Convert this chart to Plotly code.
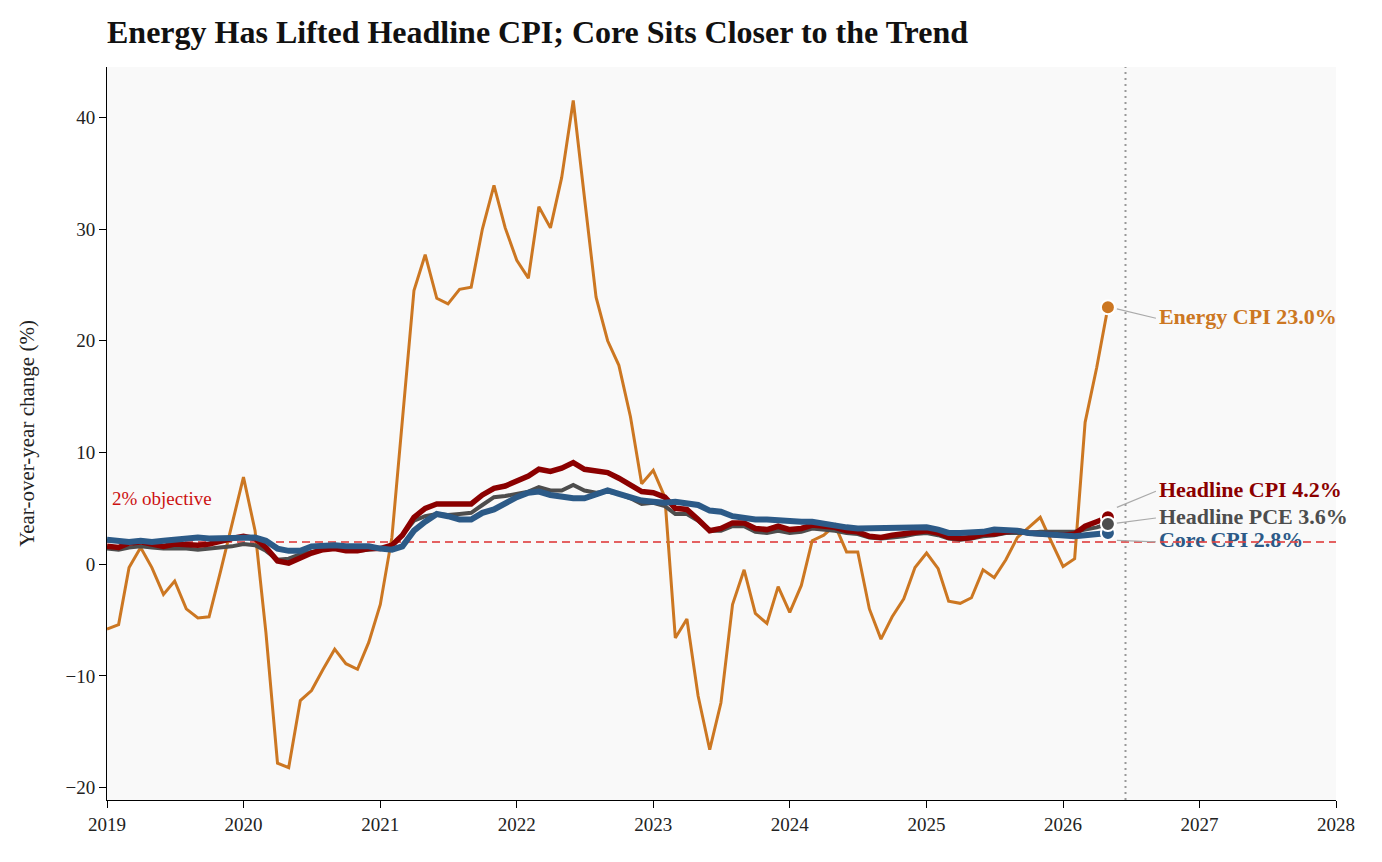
import pandas as pd
import plotly.graph_objects as go

# ---------------- data ----------------
start_month = "2019-01-01"
n_months = 89  # Jan 2019 .. May 2026

energy_cpi = [
    -5.8, -5.4, -0.3, 1.5, -0.3, -2.7, -1.5, -4.0, -4.8, -4.7, -0.6, 3.5,
    7.8, 3.0, -6.1, -17.8, -18.2, -12.2, -11.3, -9.4, -7.6, -8.9, -9.4, -7.0,
    -3.6, 2.4, 13.2, 24.5, 27.7, 23.8, 23.3, 24.6, 24.8, 30.0, 33.9, 30.1,
    27.2, 25.6, 32.0, 30.1, 34.6, 41.5, 32.8, 23.9, 20.0, 17.8, 13.2, 7.2,
    8.4, 6.0, -6.6, -4.9, -11.8, -16.6, -12.4, -3.6, -0.5, -4.4, -5.3, -2.0,
    -4.3, -1.9, 2.1, 2.6, 3.5, 1.1, 1.1, -4.0, -6.7, -4.7, -3.1, -0.3,
    1.0, -0.4, -3.3, -3.5, -3.0, -0.5, -1.2, 0.4, 2.4, 3.3, 4.2, 2.0,
    -0.2, 0.5, 12.7, 17.6, 23.0,
]
headline_cpi = [
    1.6, 1.5, 1.9, 2.0, 1.8, 1.6, 1.8, 1.7, 1.7, 1.8, 2.1, 2.3,
    2.5, 2.3, 1.5, 0.3, 0.1, 0.6, 1.0, 1.3, 1.4, 1.2, 1.2, 1.4,
    1.4, 1.7, 2.6, 4.2, 5.0, 5.4, 5.4, 5.3, 5.4, 6.2, 6.8, 7.0,
    7.5, 7.9, 8.5, 8.3, 8.6, 9.1, 8.5, 8.3, 8.2, 7.7, 7.1, 6.5,
    6.4, 6.0, 5.0, 4.9, 4.0, 3.0, 3.2, 3.7, 3.7, 3.2, 3.1, 3.4,
    3.1, 3.2, 3.5, 3.4, 3.3, 3.0, 2.9, 2.5, 2.4, 2.6, 2.7, 2.9,
    3.0, 2.8, 2.4, 2.3, 2.4, 2.7, 2.7, 2.9, 3.0, 2.8, 2.7, 2.7,
    2.6, 2.7, 3.4, 3.8, 4.2,
]
headline_pce = [
    1.4, 1.3, 1.5, 1.6, 1.5, 1.4, 1.4, 1.4, 1.3, 1.4, 1.5, 1.6,
    1.8, 1.7, 1.2, 0.4, 0.5, 0.9, 1.1, 1.3, 1.4, 1.3, 1.2, 1.3,
    1.4, 1.7, 2.6, 3.9, 4.3, 4.5, 4.4, 4.5, 4.6, 5.3, 6.0, 6.1,
    6.3, 6.5, 6.9, 6.6, 6.6, 7.1, 6.6, 6.4, 6.5, 6.3, 5.9, 5.4,
    5.5, 5.2, 4.5, 4.5, 3.9, 3.0, 3.0, 3.4, 3.4, 2.9, 2.8, 3.0,
    2.8, 2.9, 3.2, 3.1, 3.0, 2.8, 2.7, 2.4, 2.3, 2.4, 2.5, 2.7,
    2.8, 2.6, 2.3, 2.2, 2.3, 2.5, 2.6, 2.8, 2.8, 2.8, 2.9, 2.9,
    2.9, 2.9, 3.1, 3.3, 3.6,
]
core_cpi = [
    2.2, 2.1, 2.0, 2.1, 2.0, 2.1, 2.2, 2.4, 2.4, 2.3, 2.3, 2.3,
    2.3, 2.4, 2.1, 1.4, 1.2, 1.2, 1.6, 1.7, 1.7, 1.6, 1.6, 1.6,
    1.4, 1.3, 1.6, 3.0, 3.8, 4.5, 4.3, 4.0, 4.0, 4.6, 4.9, 5.5,
    6.0, 6.4, 6.5, 6.2, 6.0, 5.9, 5.9, 6.3, 6.6, 6.3, 6.0, 5.7,
    5.6, 5.5, 5.6, 5.5, 5.3, 4.8, 4.7, 4.3, 4.1, 4.0, 4.0, 3.9,
    3.9, 3.8, 3.8, 3.6, 3.4, 3.3, 3.2, 3.2, 3.3, 3.3, 3.3, 3.2,
    3.3, 3.1, 2.8, 2.8, 2.8, 2.9, 3.1, 3.1, 3.0, 2.8, 2.7, 2.7,
    2.6, 2.5, 2.6, 2.7, 2.8,
]

series_names = ["Energy CPI", "Headline PCE", "Headline CPI", "Core CPI"]
target_value = 2.0
target_label = "2% objective"
marker_date = "2026-06-17"
x_range = ["2019-01-01", "2028-01-01"]
y_range = [-21.1, 44.5]
y_ticks = [-20, -10, 0, 10, 20, 30, 40]
title_text = "Energy Has Lifted Headline CPI; Core Sits Closer to the Trend"
y_title = "Year-over-year change (%)"

# ---------------- styles ----------------
FONT = "Liberation Serif, DejaVu Serif, serif"
colors = {
    "Energy CPI": "#cc7722",
    "Headline PCE": "#4d4d4d",
    "Headline CPI": "#8b0000",
    "Core CPI": "#2c5a87",
}
widths = {"Energy CPI": 3, "Headline PCE": 4, "Headline CPI": 5.5, "Core CPI": 6}
values = {
    "Energy CPI": energy_cpi,
    "Headline PCE": headline_pce,
    "Headline CPI": headline_cpi,
    "Core CPI": core_cpi,
}
# label vertical offsets (in pixels, negative = up) relative to end point
label_dy_px = {"Energy CPI": 11, "Headline CPI": -26, "Headline PCE": -6, "Core CPI": 9}

W, H = 1382, 862
margin = dict(l=107, r=46, t=67, b=62)
plot_w = W - margin["l"] - margin["r"]
plot_h = H - margin["t"] - margin["b"]

dates = pd.date_range(start_month, periods=n_months, freq="MS")
x0_ts, x1_ts = pd.Timestamp(x_range[0]), pd.Timestamp(x_range[1])
px_per_day = plot_w / (x1_ts - x0_ts).days
px_per_unit = plot_h / (y_range[1] - y_range[0])


def dx_days(px):
    return pd.Timedelta(days=px / px_per_day)


def dy_units(px):
    return -px / px_per_unit


fig = go.Figure()

last_date = dates[-1]
label_x = last_date + dx_days(51)

# labels (drawn first so the target line passes over them, as in the reference)
for name in ["Energy CPI", "Headline CPI", "Headline PCE", "Core CPI"]:
    v = values[name][-1]
    ly = v + dy_units(label_dy_px[name])
    fig.add_trace(go.Scatter(
        x=[label_x], y=[ly], mode="text",
        text=[f"<b>{name} {v:.1f}%</b>"],
        textposition="middle right",
        textfont=dict(family=FONT, size=22, color=colors[name]),
        showlegend=False, hoverinfo="skip", cliponaxis=False,
    ))

# 2% target line
fig.add_trace(go.Scatter(
    x=[x0_ts, x1_ts], y=[target_value, target_value], mode="lines",
    line=dict(color="rgba(224,70,70,0.85)", width=2, dash="8px,5px"),
    showlegend=False, hoverinfo="skip",
))

# series lines
for name in series_names:
    fig.add_trace(go.Scatter(
        x=dates, y=values[name], mode="lines", name=name,
        line=dict(color=colors[name], width=widths[name]),
        showlegend=False,
    ))

# leader lines
for name in ["Energy CPI", "Headline CPI", "Headline PCE", "Core CPI"]:
    v = values[name][-1]
    dyp = label_dy_px[name]
    sx = last_date + dx_days(9)
    sy = v + dy_units(dyp * 0.15 + (-6 if name == "Headline CPI" else 0) + (6 if name == "Core CPI" else 0))
    ex = last_date + dx_days(48)
    ey = v + dy_units(dyp)
    fig.add_trace(go.Scatter(
        x=[sx, ex], y=[sy, ey], mode="lines",
        line=dict(color="#aaaaaa", width=1.2),
        showlegend=False, hoverinfo="skip", cliponaxis=False,
    ))

# end markers (PCE last so it sits on top)
for name in ["Energy CPI", "Headline CPI", "Core CPI", "Headline PCE"]:
    fig.add_trace(go.Scatter(
        x=[last_date], y=[values[name][-1]], mode="markers",
        marker=dict(size=14, color=colors[name], line=dict(color="white", width=2)),
        showlegend=False, hoverinfo="skip", cliponaxis=False,
    ))

# vertical dotted marker line
fig.add_shape(
    type="line", xref="x", yref="paper",
    x0=marker_date, x1=marker_date, y0=0, y1=1,
    line=dict(color="#999999", width=2, dash="2px,4px"),
    layer="below",
)

fig.add_annotation(
    x=dates[0] + dx_days(3), y=target_value + dy_units(-43),
    text=target_label, showarrow=False, xanchor="left", yanchor="middle",
    font=dict(family=FONT, size=19, color="#cc1111"),
)

fig.update_layout(
    width=W, height=H,
    margin=margin,
    paper_bgcolor="white",
    plot_bgcolor="#f9f9f9",
    font=dict(family=FONT, size=18, color="#222222"),
    title=dict(
        text=f"<b>{title_text}</b>",
        xref="container", x=margin["l"] / W, xanchor="left",
        yref="container", y=1 - 32 / H, yanchor="middle",
        font=dict(family=FONT, size=32, color="#111111"),
    ),
    showlegend=False,
    xaxis=dict(
        type="date", range=x_range, dtick="M12", tickformat="%Y",
        showline=True, linecolor="black", linewidth=1,
        ticks="outside", ticklen=7, tickcolor="black",
        showgrid=False, zeroline=False,
        tickfont=dict(family=FONT, size=19, color="#222222"),
    ),
    yaxis=dict(
        range=y_range, tickvals=y_ticks,
        showline=True, linecolor="black", linewidth=1,
        ticks="outside", ticklen=7, tickcolor="black",
        showgrid=False, zeroline=False,
        tickfont=dict(family=FONT, size=19, color="#222222"),
        title=dict(text=y_title, font=dict(family=FONT, size=21, color="#222222"), standoff=25),
    ),
)

fig.write_html("out.html")
